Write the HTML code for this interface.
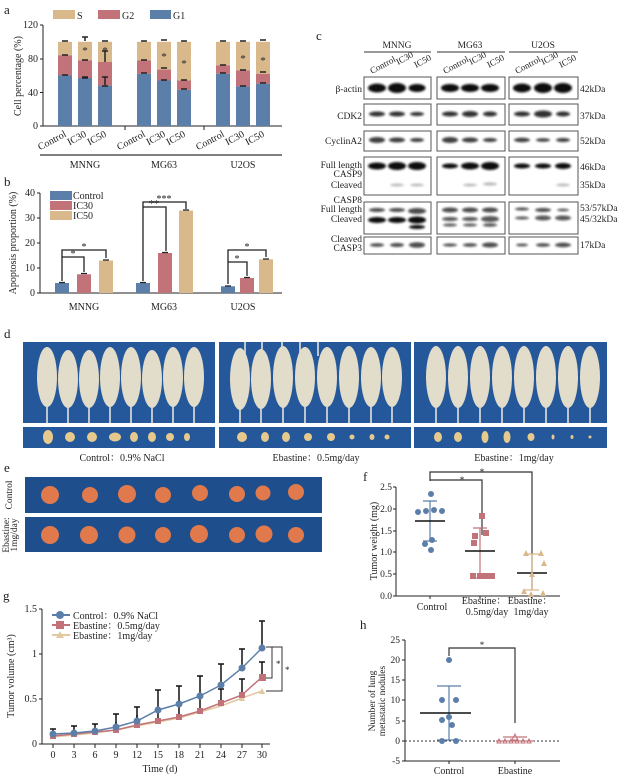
<!DOCTYPE html>
<html><head><meta charset="utf-8"><style>
html,body{margin:0;padding:0;background:#fff;}
svg{display:block;font-family:"Liberation Serif","Noto Serif CJK SC",serif;}
</style></head><body>
<svg width="626" height="778" viewBox="0 0 626 778" xmlns="http://www.w3.org/2000/svg">
<defs>
<filter id="bl" x="-20%" y="-50%" width="140%" height="200%"><feGaussianBlur stdDeviation="1"/></filter>
</defs>
<g font-size="10" fill="#222">
<!-- ===== a ===== -->
<text x="4" y="14" font-size="13">a</text>
<rect x="53" y="10" width="22" height="9" fill="#d9b98c"/><text x="77" y="19">S</text>
<rect x="98" y="10" width="22" height="9" fill="#c2737a"/><text x="122" y="19">G2</text>
<rect x="150" y="10" width="21" height="9" fill="#5c7fa9"/><text x="173" y="19">G1</text>
<text transform="translate(21,76) rotate(-90)" text-anchor="middle">Cell percentage (%)</text>
<g stroke="#222" stroke-width="1" fill="none"><path d="M43,25V126H282M40,25H43M40,59H43M40,92.5H43M40,126H43M125,126v4M204,126v4"/></g>
<g text-anchor="end"><text x="38" y="28">120</text><text x="38" y="62">80</text><text x="38" y="96">40</text><text x="38" y="129">0</text></g>
<g>
<rect x="58" y="41.8" width="14" height="13.5" fill="#d9b98c"/><rect x="58" y="55.3" width="14" height="20.2" fill="#c2737a"/><rect x="58" y="75.5" width="14" height="50.5" fill="#5c7fa9"/>
<rect x="78" y="41.8" width="14" height="18.5" fill="#d9b98c"/><rect x="78" y="60.3" width="14" height="17.7" fill="#c2737a"/><rect x="78" y="78" width="14" height="48" fill="#5c7fa9"/>
<rect x="98" y="41.8" width="14" height="20.2" fill="#d9b98c"/><rect x="98" y="62" width="14" height="23.6" fill="#c2737a"/><rect x="98" y="85.6" width="14" height="40.4" fill="#5c7fa9"/>
<rect x="137" y="41.8" width="14" height="18.5" fill="#d9b98c"/><rect x="137" y="60.3" width="14" height="13.5" fill="#c2737a"/><rect x="137" y="73.8" width="14" height="52.2" fill="#5c7fa9"/>
<rect x="157" y="41.8" width="14" height="27.8" fill="#d9b98c"/><rect x="157" y="69.6" width="14" height="10.9" fill="#c2737a"/><rect x="157" y="80.5" width="14" height="45.5" fill="#5c7fa9"/>
<rect x="177" y="41.8" width="14" height="38.7" fill="#d9b98c"/><rect x="177" y="80.5" width="14" height="9.3" fill="#c2737a"/><rect x="177" y="89.8" width="14" height="36.2" fill="#5c7fa9"/>
<rect x="216" y="41.8" width="14" height="23.6" fill="#d9b98c"/><rect x="216" y="65.4" width="14" height="8.4" fill="#c2737a"/><rect x="216" y="73.8" width="14" height="52.2" fill="#5c7fa9"/>
<rect x="236" y="41.8" width="14" height="28.6" fill="#d9b98c"/><rect x="236" y="70.4" width="14" height="16" fill="#c2737a"/><rect x="236" y="86.4" width="14" height="39.6" fill="#5c7fa9"/>
<rect x="256" y="41.8" width="14" height="32" fill="#d9b98c"/><rect x="256" y="73.8" width="14" height="10.1" fill="#c2737a"/><rect x="256" y="83.9" width="14" height="42.1" fill="#5c7fa9"/>
</g>
<g stroke="#222" stroke-width="1.5" fill="none">
<path d="M62,41H68M82,37H88M85,37V41M102,41H108M62,55H68M82,60H88M102,51H108M105,51V62M102,77H108M105,77V85M82,77H88M62,75H68M82,78H88M102,86H108"/>
<path d="M141,41H147M161,40H167M181,41H187M141,60H147M161,68H167M181,80H187M141,73H147M161,80H167M181,89H187"/>
<path d="M220,41H226M240,41H246M260,40H266M220,65H226M240,70H246M260,72H266M220,73H226M240,86H246M260,83H266"/>
</g>
<g font-size="11"><text x="85" y="54" text-anchor="middle">*</text><text x="105" y="54" text-anchor="middle">*</text><text x="164" y="60" text-anchor="middle">*</text><text x="184" y="67" text-anchor="middle">*</text><text x="243" y="62" text-anchor="middle">*</text><text x="263" y="64" text-anchor="middle">*</text></g>
<g text-anchor="end">
<text transform="translate(67,136) rotate(-28)">Control</text><text transform="translate(87,136) rotate(-28)">IC30</text><text transform="translate(107,136) rotate(-28)">IC50</text>
<text transform="translate(146,136) rotate(-28)">Control</text><text transform="translate(166,136) rotate(-28)">IC30</text><text transform="translate(186,136) rotate(-28)">IC50</text>
<text transform="translate(225,136) rotate(-28)">Control</text><text transform="translate(245,136) rotate(-28)">IC30</text><text transform="translate(265,136) rotate(-28)">IC50</text>
</g>
<path d="M40,155H282" stroke="#333" stroke-width="1.2"/>
<g text-anchor="middle"><text x="85" y="168">MNNG</text><text x="164" y="168">MG63</text><text x="243" y="168">U2OS</text></g>

<!-- ===== b ===== -->
<text x="4" y="186" font-size="13">b</text>
<text transform="translate(16,243) rotate(-90)" text-anchor="middle">Apoptosis proportion (%)</text>
<rect x="50" y="191" width="22" height="9" fill="#5c7fa9"/><text x="73" y="199">Control</text>
<rect x="50" y="201" width="22" height="9" fill="#c2737a"/><text x="73" y="209">IC30</text>
<rect x="50" y="211" width="22" height="9" fill="#d9b98c"/><text x="73" y="219">IC50</text>
<path d="M40,193V293H282M37,193H40M37,218H40M37,243H40M37,268H40M37,293H40" stroke="#222" fill="none"/>
<g text-anchor="end"><text x="35" y="196">40</text><text x="35" y="221">30</text><text x="35" y="246">20</text><text x="35" y="271">10</text><text x="35" y="296">0</text></g>
<rect x="55" y="283" width="14" height="10" fill="#5c7fa9"/><rect x="77" y="274.3" width="14" height="18.7" fill="#c2737a"/><rect x="99" y="260.5" width="14" height="32.5" fill="#d9b98c"/>
<rect x="136" y="283" width="14" height="10" fill="#5c7fa9"/><rect x="158" y="253" width="14" height="40" fill="#c2737a"/><rect x="179" y="210.5" width="14" height="82.5" fill="#d9b98c"/>
<rect x="221" y="286.3" width="14" height="6.7" fill="#5c7fa9"/><rect x="240" y="278" width="14" height="15" fill="#c2737a"/><rect x="259" y="259.3" width="14" height="33.7" fill="#d9b98c"/>
<g stroke="#222" stroke-width="1.3" fill="none">
<path d="M59,282.5H65M81,273.5H87M103,260H109M140,282.5H146M162,252.5H168M183,210H189M225,286H231M244,277.5H250M263,259H269"/>
<path d="M62,281V250H106V258M62,257H84V272"/>
<path d="M143,281V202H186V209M143,207H166V251"/>
<path d="M228,284V250H266V257M228,262H247V276"/>
</g>
<g text-anchor="middle" font-size="10"><text x="84" y="250">*</text><text x="73" y="257">*</text><text x="164" y="202">***</text><text x="154" y="207">**</text><text x="247" y="250">*</text><text x="237" y="262">*</text></g>
<g text-anchor="middle"><text x="84" y="310">MNNG</text><text x="164" y="310">MG63</text><text x="243" y="310">U2OS</text></g>

<!-- ===== c ===== -->
<text x="316" y="40" font-size="13">c</text>
<g text-anchor="middle" font-size="9.5"><text x="397" y="48">MNNG</text><text x="470" y="48">MG63</text><text x="543" y="48">U2OS</text></g>
<path d="M364,52H431M437,52H505M509,52H578" stroke="#333"/>
<g font-size="9">
<text transform="translate(372,74) rotate(-28)">Control</text><text transform="translate(398,65) rotate(-28)">IC30</text><text transform="translate(416,68) rotate(-28)">IC50</text>
<text transform="translate(445,74) rotate(-28)">Control</text><text transform="translate(471,65) rotate(-28)">IC30</text><text transform="translate(489,68) rotate(-28)">IC50</text>
<text transform="translate(517,74) rotate(-28)">Control</text><text transform="translate(543,65) rotate(-28)">IC30</text><text transform="translate(561,68) rotate(-28)">IC50</text>
</g>
<g fill="#fff" stroke="#555" stroke-width="1">
<rect x="364" y="77" width="67" height="22"/><rect x="437" y="77" width="68" height="22"/><rect x="509" y="77" width="69" height="22"/>
<rect x="364" y="104" width="67" height="21"/><rect x="437" y="104" width="68" height="21"/><rect x="509" y="104" width="69" height="21"/>
<rect x="364" y="131" width="67" height="20"/><rect x="437" y="131" width="68" height="20"/><rect x="509" y="131" width="69" height="20"/>
<rect x="364" y="157" width="67" height="38"/><rect x="437" y="157" width="68" height="38"/><rect x="509" y="157" width="69" height="38"/>
<rect x="364" y="202" width="67" height="32"/><rect x="437" y="202" width="68" height="32"/><rect x="509" y="202" width="69" height="32"/>
<rect x="364" y="237" width="67" height="17"/><rect x="437" y="237" width="68" height="17"/><rect x="509" y="237" width="69" height="17"/>
</g>
<g filter="url(#bl)" fill="#111">
<ellipse cx="377" cy="88" rx="9" ry="4.5"/><ellipse cx="397" cy="88" rx="9" ry="5"/><ellipse cx="417" cy="88" rx="8.5" ry="4"/>
<ellipse cx="450" cy="88" rx="9" ry="4"/><ellipse cx="470" cy="88" rx="9" ry="4"/><ellipse cx="490" cy="88" rx="9" ry="4"/>
<ellipse cx="522" cy="88" rx="9" ry="4.5"/><ellipse cx="543" cy="88" rx="9" ry="5"/><ellipse cx="563" cy="88" rx="9" ry="5"/>
<g opacity="0.85"><ellipse cx="377" cy="114" rx="8" ry="2.5"/><ellipse cx="397" cy="114" rx="8" ry="2.5"/><ellipse cx="417" cy="114" rx="7" ry="2"/>
<ellipse cx="450" cy="114" rx="8" ry="2.5"/><ellipse cx="470" cy="114" rx="8" ry="3"/><ellipse cx="490" cy="114" rx="7" ry="2.5"/>
<ellipse cx="522" cy="114" rx="8" ry="2.5"/><ellipse cx="543" cy="114" rx="9" ry="3.5"/><ellipse cx="563" cy="114" rx="7" ry="2.5"/></g>
<g opacity="0.8"><ellipse cx="377" cy="140" rx="8" ry="3"/><ellipse cx="397" cy="140" rx="8" ry="2.5"/><ellipse cx="417" cy="140" rx="7" ry="2"/>
<ellipse cx="450" cy="140" rx="8" ry="3"/><ellipse cx="470" cy="140" rx="8" ry="2.5"/><ellipse cx="490" cy="140" rx="7" ry="2"/>
<ellipse cx="522" cy="140" rx="8" ry="2.2"/><ellipse cx="543" cy="140" rx="7" ry="1.8"/><ellipse cx="563" cy="140" rx="7" ry="2"/></g>
<ellipse cx="377" cy="166" rx="9" ry="3.5"/><ellipse cx="397" cy="166" rx="9" ry="4"/><ellipse cx="417" cy="166" rx="9" ry="4"/>
<ellipse cx="450" cy="166" rx="8" ry="2.5"/><ellipse cx="470" cy="166" rx="9" ry="3.5"/><ellipse cx="490" cy="166" rx="9" ry="4"/>
<ellipse cx="522" cy="166" rx="8" ry="2.5"/><ellipse cx="543" cy="166" rx="8" ry="2.5"/><ellipse cx="563" cy="166" rx="8" ry="3"/>
<g opacity="0.25"><ellipse cx="397" cy="185" rx="7" ry="1.5"/><ellipse cx="417" cy="185" rx="7" ry="1.5"/><ellipse cx="470" cy="185" rx="7" ry="1.5"/><ellipse cx="490" cy="184" rx="7" ry="1.8"/><ellipse cx="563" cy="185" rx="7" ry="1.5"/></g>
<g opacity="0.75"><ellipse cx="377" cy="210" rx="8" ry="2"/><ellipse cx="397" cy="210" rx="8" ry="2"/><ellipse cx="417" cy="211" rx="9" ry="3"/>
<ellipse cx="450" cy="210" rx="8" ry="2.5"/><ellipse cx="470" cy="210" rx="8" ry="2.5"/><ellipse cx="490" cy="210" rx="8" ry="2.5"/>
<ellipse cx="522" cy="209" rx="7" ry="1.5"/><ellipse cx="543" cy="210" rx="8" ry="2"/><ellipse cx="563" cy="210" rx="6" ry="1.3"/></g>
<ellipse cx="377" cy="220" rx="9" ry="3"/><ellipse cx="397" cy="220" rx="9" ry="3"/><ellipse cx="417" cy="220" rx="9" ry="3.5"/><ellipse cx="417" cy="227" rx="8" ry="2"/>
<g opacity="0.7"><ellipse cx="450" cy="219" rx="8" ry="2"/><ellipse cx="470" cy="219" rx="8" ry="2"/><ellipse cx="490" cy="219" rx="9" ry="3"/><ellipse cx="450" cy="225" rx="7" ry="1.5"/><ellipse cx="470" cy="225" rx="7" ry="1.5"/><ellipse cx="490" cy="225" rx="7" ry="1.8"/>
<ellipse cx="522" cy="218" rx="7" ry="1.5"/><ellipse cx="543" cy="218" rx="8" ry="2.5"/><ellipse cx="563" cy="218" rx="8" ry="2.5"/></g>
<g opacity="0.75"><ellipse cx="377" cy="245" rx="7" ry="1.8"/><ellipse cx="397" cy="245" rx="7" ry="2"/><ellipse cx="417" cy="245" rx="8" ry="2.8"/>
<ellipse cx="450" cy="245" rx="7" ry="1.5"/><ellipse cx="470" cy="245" rx="7" ry="1.8"/><ellipse cx="490" cy="245" rx="8" ry="2.5"/>
<ellipse cx="522" cy="245" rx="6" ry="1.4"/><ellipse cx="543" cy="245" rx="7" ry="1.8"/><ellipse cx="563" cy="245" rx="8" ry="2.2"/></g>
</g>
<g font-size="9.5" text-anchor="end">
<text x="362" y="92">β-actin</text><text x="362" y="119">CDK2</text><text x="362" y="144">CyclinA2</text>
<text x="362" y="168">Full length</text><text x="362" y="177">CASP9</text><text x="362" y="188">Cleaved</text>
<text x="362" y="203">CASP8</text><text x="362" y="212">Full length</text><text x="362" y="222">Cleaved</text>
<text x="362" y="242">Cleaved</text><text x="362" y="251">CASP3</text>
</g>
<g font-size="9.5"><text x="580" y="92">42kDa</text><text x="580" y="119">37kDa</text><text x="580" y="144">52kDa</text><text x="580" y="170">46kDa</text><text x="580" y="188">35kDa</text><text x="580" y="211">53/57kDa</text><text x="580" y="222">45/32kDa</text><text x="580" y="248">17kDa</text></g>

<!-- ===== d ===== -->
<text x="4" y="338" font-size="13">d</text>
<g fill="#24589a">
<rect x="23" y="342" width="192" height="81"/><rect x="219" y="342" width="192" height="81"/><rect x="414" y="342" width="193" height="81"/>
<rect x="23" y="427" width="192" height="21"/><rect x="219" y="427" width="192" height="21"/><rect x="414" y="427" width="193" height="21"/>
</g>
<g stroke="#eeeae0" stroke-width="1.5" fill="none">
<path d="M47,395V423M68,395V423M89,395V423M110,395V423M131,395V423M152,395V423M173,395V423M194,395V423"/>
<path d="M240,395V423M261,395V423M283,395V423M305,395V423M327,395V423M349,395V423M371,395V423M392,395V423"/>
<path d="M436,395V423M458,395V423M480,395V423M502,395V423M524,395V423M546,395V423M568,395V423M590,395V423"/>
<path d="M245,342V356M262,342V356M282,342V356M300,342V356M318,342V356"/>
</g>
<g fill="#e2dccb">
<ellipse cx="47" cy="377" rx="10" ry="30"/><ellipse cx="68" cy="379" rx="10" ry="29"/><ellipse cx="89" cy="379" rx="10" ry="29"/><ellipse cx="110" cy="377" rx="10" ry="30"/><ellipse cx="131" cy="377" rx="10" ry="30"/><ellipse cx="152" cy="379" rx="10" ry="29"/><ellipse cx="173" cy="377" rx="10" ry="30"/><ellipse cx="194" cy="377" rx="10" ry="30"/>
<ellipse cx="240" cy="379" rx="10" ry="31"/><ellipse cx="261" cy="379" rx="10" ry="30"/><ellipse cx="283" cy="377" rx="10" ry="31"/><ellipse cx="305" cy="377" rx="10" ry="30"/><ellipse cx="327" cy="377" rx="10" ry="30"/><ellipse cx="349" cy="377" rx="10" ry="31"/><ellipse cx="371" cy="377" rx="10" ry="30"/><ellipse cx="392" cy="377" rx="10" ry="30"/>
<ellipse cx="436" cy="377" rx="10" ry="31"/><ellipse cx="458" cy="377" rx="10" ry="31"/><ellipse cx="480" cy="377" rx="10" ry="31"/><ellipse cx="502" cy="377" rx="10" ry="31"/><ellipse cx="524" cy="377" rx="10" ry="31"/><ellipse cx="546" cy="377" rx="10" ry="31"/><ellipse cx="568" cy="377" rx="10" ry="31"/><ellipse cx="590" cy="377" rx="10" ry="31"/>
</g>
<g fill="#e6c98c">
<ellipse cx="48" cy="437" rx="5" ry="7"/><ellipse cx="70" cy="437" rx="5" ry="5"/><ellipse cx="92" cy="437" rx="5" ry="5"/><ellipse cx="115" cy="437" rx="6" ry="4.5"/><ellipse cx="134" cy="437" rx="4" ry="5"/><ellipse cx="152" cy="437" rx="4" ry="5"/><ellipse cx="170" cy="437" rx="4" ry="4"/><ellipse cx="187" cy="437" rx="3" ry="4"/>
<ellipse cx="242" cy="437" rx="5" ry="5"/><ellipse cx="265" cy="437" rx="4" ry="5"/><ellipse cx="286" cy="437" rx="4" ry="5"/><ellipse cx="308" cy="437" rx="4" ry="4"/><ellipse cx="331" cy="437" rx="4" ry="4"/><ellipse cx="352" cy="437" rx="2.5" ry="2.5"/><ellipse cx="372" cy="437" rx="2.5" ry="3"/><ellipse cx="387" cy="437" rx="2.5" ry="2.5"/>
<ellipse cx="438" cy="437" rx="4" ry="5"/><ellipse cx="458" cy="437" rx="4" ry="5"/><ellipse cx="485" cy="437" rx="3.5" ry="6"/><ellipse cx="507" cy="437" rx="3.5" ry="6"/><ellipse cx="531" cy="437" rx="3.5" ry="4"/><ellipse cx="553" cy="437" rx="1.5" ry="2.5"/><ellipse cx="572" cy="437" rx="1.5" ry="2"/><ellipse cx="590" cy="437" rx="1.5" ry="1.5"/>
</g>
<g text-anchor="middle" font-size="10"><text x="122" y="461">Control：0.9% NaCl</text><text x="316" y="461">Ebastine：0.5mg/day</text><text x="514" y="461">Ebastine：1mg/day</text></g>

<!-- ===== e ===== -->
<text x="4" y="472" font-size="13">e</text>
<rect x="25" y="477" width="297" height="36" fill="#1f4e8c"/><rect x="25" y="517" width="297" height="35" fill="#1f4e8c"/>
<g fill="#e07a4c">
<circle cx="50" cy="495" r="9"/><circle cx="90" cy="495" r="8"/><circle cx="127" cy="494" r="9"/><circle cx="163" cy="495" r="8"/><circle cx="200" cy="493" r="8"/><circle cx="237" cy="494" r="8"/><circle cx="263" cy="493" r="7.5"/><circle cx="296" cy="492" r="8"/>
<circle cx="50" cy="535" r="9"/><circle cx="89" cy="535" r="9"/><circle cx="127" cy="535" r="8.5"/><circle cx="163" cy="535" r="8"/><circle cx="199" cy="534" r="9"/><circle cx="237" cy="535" r="8"/><circle cx="264" cy="534" r="8.5"/><circle cx="296" cy="535" r="8"/>
</g>
<g font-size="9.5" text-anchor="middle"><text transform="translate(12,495) rotate(-90)">Control</text><text transform="translate(9,535) rotate(-90)">Ebastine:</text><text transform="translate(17,535) rotate(-90)">1mg/day</text></g>

<!-- ===== f ===== -->
<text x="363" y="481" font-size="13">f</text>
<text transform="translate(377,541) rotate(-90)" text-anchor="middle">Tumor weight (mg)</text>
<path d="M396,487V596H560M393,487H396M393,509H396M393,531H396M393,552H396M393,574H396M393,596H396M430,596v3M480,596v3M532,596v3" stroke="#222" fill="none"/>
<g text-anchor="end" font-size="9.5"><text x="392" y="490">2.5</text><text x="392" y="512">2.0</text><text x="392" y="534">1.5</text><text x="392" y="555">1.0</text><text x="392" y="577">0.5</text><text x="392" y="599">0.0</text></g>
<path d="M430,481V472H532V590M430,480H482V535" stroke="#333" stroke-width="1.2" fill="none"/>
<text x="462" y="483" font-size="9" text-anchor="middle">*</text><text x="482" y="475" font-size="9" text-anchor="middle">*</text>
<g stroke="#5c7fa9" stroke-width="1.2"><path d="M430,501V541M423,501H437M423,541H437"/></g>
<path d="M415,521H445" stroke="#111" stroke-width="1.5"/>
<g fill="#5c7fa9"><circle cx="431" cy="494" r="3"/><circle cx="418" cy="512" r="3"/><circle cx="426" cy="511" r="3"/><circle cx="434" cy="510" r="3"/><circle cx="442" cy="511" r="3"/><circle cx="425" cy="544" r="3"/><circle cx="432" cy="540" r="3"/><circle cx="431" cy="550" r="3"/></g>
<g stroke="#c2737a" stroke-width="1.2"><path d="M480,528V578M473,528H487M473,578H487"/></g>
<path d="M465,551H495" stroke="#111" stroke-width="1.5"/>
<g fill="#c2737a"><rect x="479" y="513" width="6" height="6"/><rect x="472" y="533" width="6" height="6"/><rect x="483" y="530" width="6" height="6"/><rect x="471" y="540" width="6" height="6"/><rect x="470" y="573" width="6" height="6"/><rect x="477" y="573" width="6" height="6"/><rect x="483" y="573" width="6" height="6"/><rect x="489" y="573" width="6" height="6"/></g>
<g stroke="#d9b98c" stroke-width="1.2"><path d="M532,554V590M525,554H539M525,590H539"/></g>
<path d="M517,573H547" stroke="#111" stroke-width="1.5"/>
<g fill="#d9b98c"><path d="M523,556l3,-6l3,6z"/><path d="M538,556l3,-6l3,6z"/><path d="M541,566l3,-6l3,6z"/><path d="M529,577l3,-6l3,6z"/><path d="M521,594l3,-6l3,6z"/><path d="M528,597l3,-6l3,6z"/><path d="M540,596l3,-6l3,6z"/></g>
<g text-anchor="middle" font-size="10"><text x="432" y="610">Control</text><text x="484" y="604">Ebastine：</text><text x="487" y="615">0.5mg/day</text><text x="530" y="604">Ebastine：</text><text x="531" y="615">1mg/day</text></g>

<!-- ===== g ===== -->
<text x="3" y="600" font-size="13">g</text>
<text transform="translate(14,676) rotate(-90)" text-anchor="middle">Tumor volume (cm³)</text>
<path d="M42,609V744H270M39,609H42M39,654H42M39,699H42M39,744H42" stroke="#222" fill="none"/>
<path d="M53,744v4M74,744v4M95,744v4M116,744v4M137,744v4M158,744v4M179,744v4M200,744v4M221,744v4M242,744v4M262,744v4" stroke="#222"/>
<g text-anchor="end" font-size="10"><text x="37" y="612">1.5</text><text x="37" y="657">1</text><text x="37" y="702">0.5</text><text x="37" y="747">0</text></g>
<g text-anchor="middle" font-size="10"><text x="53" y="758">0</text><text x="74" y="758">3</text><text x="95" y="758">6</text><text x="116" y="758">9</text><text x="137" y="758">12</text><text x="158" y="758">15</text><text x="179" y="758">18</text><text x="200" y="758">21</text><text x="221" y="758">24</text><text x="242" y="758">27</text><text x="262" y="758">30</text><text x="160" y="772">Time (d)</text></g>
<g stroke="#111" stroke-width="1.5" fill="none">
<path d="M53,734V729M50,729H56M74,733V726M71,726H77M95,731V724M92,724H98M116,727V714M113,714H119M137,721V707M134,707H140M158,710V690M155,690H161M179,704V686M176,686H182M200,696V676M197,676H203M221,685V664M218,664H224M242,668V649M239,649H245M262,648V621M259,621H265"/>
<path d="M74,735V731M95,733V730M116,730V722M137,725V715M158,721V707M179,718V700M200,711V694M221,704V689M242,695V679M262,679V662M259,662H265M239,679H245M218,689H224"/>
</g>
<polyline fill="none" stroke="#e2c9a0" stroke-width="1.5" points="53,737 74,735 95,733 116,730 137,726 158,722 179,718 200,712 221,706 242,698 262,691"/>
<polyline fill="none" stroke="#c2737a" stroke-width="1.5" points="53,736 74,734 95,732 116,730 137,725 158,721 179,717 200,711 221,703 242,695 262,677"/>
<polyline fill="none" stroke="#5c7fa9" stroke-width="1.5" points="53,734 74,733 95,731 116,727 137,721 158,710 179,704 200,696 221,685 242,668 262,648"/>
<g fill="#e2c9a0"><path d="M259,694l3,-6l3,6z"/><path d="M239,701l3,-6l3,6z"/></g>
<g fill="#c2737a"><rect x="50" y="733" width="6" height="6"/><rect x="71" y="731" width="6" height="6"/><rect x="92" y="729" width="6" height="6"/><rect x="113" y="727" width="6" height="6"/><rect x="134" y="722" width="6" height="6"/><rect x="155" y="718" width="6" height="6"/><rect x="176" y="714" width="6" height="6"/><rect x="197" y="708" width="6" height="6"/><rect x="218" y="700" width="6" height="6"/><rect x="239" y="692" width="6" height="6"/><rect x="259" y="674" width="7" height="7"/></g>
<g fill="#5c7fa9"><circle cx="53" cy="734" r="3.5"/><circle cx="74" cy="733" r="3.5"/><circle cx="95" cy="731" r="3.5"/><circle cx="116" cy="727" r="3.5"/><circle cx="137" cy="721" r="3.5"/><circle cx="158" cy="710" r="3.5"/><circle cx="179" cy="704" r="3.5"/><circle cx="200" cy="696" r="3.5"/><circle cx="221" cy="685" r="3.5"/><circle cx="242" cy="668" r="3.5"/><circle cx="262" cy="648" r="3.5"/></g>
<path d="M266,647H272V678H266M272,647H282V691H266" stroke="#333" fill="none"/>
<text x="276" y="667" font-size="9">*</text><text x="285" y="673" font-size="9">*</text>
<path d="M52,615H70" stroke-width="2" stroke="#5c7fa9"/>
<path d="M52,625H70" stroke-width="2" stroke="#c2737a"/><path d="M52,635H70" stroke-width="2" stroke="#e2c9a0"/>
<circle cx="60" cy="615" r="4" fill="#5c7fa9"/><rect x="56" y="621" width="8" height="8" fill="#c2737a"/><path d="M56,638l4,-7l4,7z" fill="#e2c9a0"/>
<g font-size="10"><text x="73" y="619">Control：0.9% NaCl</text><text x="73" y="629">Ebastine：0.5mg/day</text><text x="73" y="639">Ebastine：1mg/day</text></g>

<!-- ===== h ===== -->
<text x="360" y="629" font-size="13">h</text>
<g text-anchor="middle" font-size="9.5"><text transform="translate(375,701) rotate(-90)">Number of lung</text><text transform="translate(385,701) rotate(-90)">metastatic nodules</text></g>
<path d="M405,640V761H560M402,640H405M402,660H405M402,680H405M402,700H405M402,721H405M402,741H405M402,761H405M449,761v3M515,761v3" stroke="#222" fill="none"/>
<g text-anchor="end" font-size="9.5"><text x="400" y="643">25</text><text x="400" y="663">20</text><text x="400" y="683">15</text><text x="400" y="703">10</text><text x="400" y="724">5</text><text x="400" y="744">0</text><text x="400" y="764">-5</text></g>
<path d="M405,741H560" stroke="#333" stroke-dasharray="2,2"/>
<path d="M449,656V648H515V723" stroke="#333" stroke-width="1.2" fill="none"/>
<text x="482" y="648" font-size="9" text-anchor="middle">*</text>
<g stroke="#5c7fa9" stroke-width="1.2"><path d="M449,686V740M437,686H461M437,740H461"/></g>
<path d="M420,713H471" stroke="#111" stroke-width="1.5"/>
<g fill="#5c7fa9"><circle cx="449" cy="660" r="3"/><circle cx="442" cy="700" r="3"/><circle cx="456" cy="700" r="3"/><circle cx="449" cy="717" r="3"/><circle cx="442" cy="720" r="3"/><circle cx="452" cy="725" r="3"/><circle cx="442" cy="741" r="3"/><circle cx="456" cy="741" r="3"/></g>
<path d="M503,737H527M496,741H534" stroke="#c2737a" stroke-width="1.2"/>
<g fill="none" stroke="#c2737a"><path d="M512,740l3,-6l3,6z"/><path d="M497,743l2,-4l2,4zM503,743l2,-4l2,4zM509,743l2,-4l2,4zM515,743l2,-4l2,4zM521,743l2,-4l2,4zM527,743l2,-4l2,4z"/></g>
<g text-anchor="middle" font-size="10"><text x="449" y="774">Control</text><text x="515" y="774">Ebastine</text></g>
</g>
</svg>
</body></html>
